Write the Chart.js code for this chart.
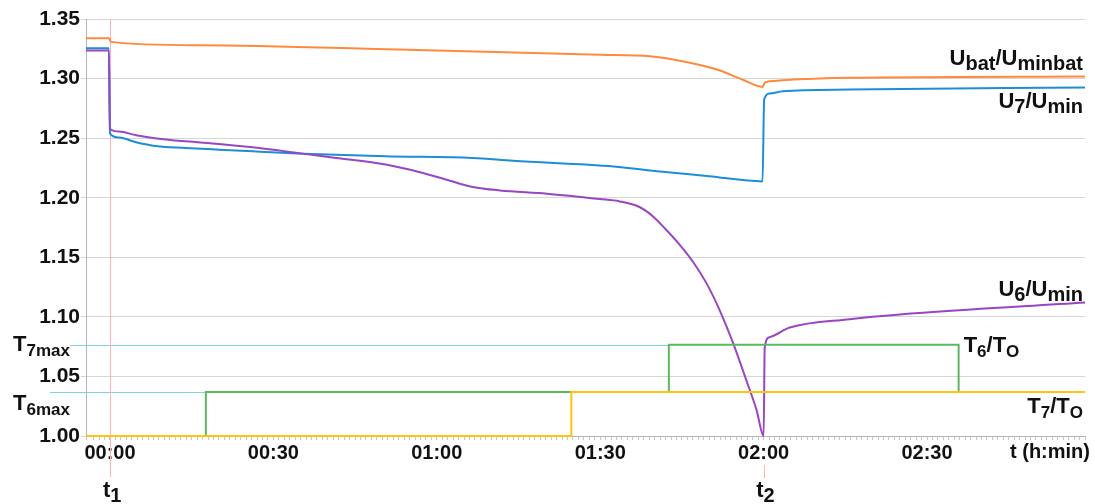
<!DOCTYPE html>
<html>
<head>
<meta charset="utf-8">
<script src="https://cdn.jsdelivr.net/npm/chart.js@4.4.0/dist/chart.umd.min.js"></script>
<style>
  html, body { margin: 0; padding: 0; background: #fff; }
</style>
</head>
<body>
<canvas id="chart" width="1095" height="504"></canvas>
<script>
// ===== Data (time in minutes from t1, values are ratios) =====

// Ubat / Uminbat
const ubatT = [-4.4, -0.2, 0.2, 16.3, 53, 90, 99.1, 105.1, 111.4, 116.1, 119.8, 120.2, 121.1, 123.5, 135.8, 179];
const ubatV = [1.3339, 1.3339, 1.3308, 1.328, 1.3244, 1.320, 1.3187, 1.3145, 1.3076, 1.2992, 1.293, 1.2964, 1.2977, 1.2986, 1.3006, 1.3017];

// U7 / Umin
const u7T = [-4.4, -0.2, 0, 1.65, 4.8, 7.9, 13.9, 20, 26.2, 35.4, 50.6, 66.6, 74, 92.5, 101, 110, 119.8, 120.1, 121.1, 123.5, 135.8, 179];
const u7V = [1.3255, 1.3255, 1.2538, 1.2505, 1.2465, 1.2437, 1.2418, 1.2403, 1.2389, 1.237, 1.2347, 1.2334, 1.231, 1.2263, 1.222, 1.218, 1.2137, 1.2824, 1.2874, 1.2893, 1.2908, 1.2925];

// U6 / Umin
const u6T = [-4.4, -0.2, 0, 1.65, 4.8, 7.9, 13.9, 20, 26.2, 32.3, 35.4, 41.5, 50.6, 56.9, 61.8, 66.6, 71.6, 80.2, 89.9, 93.6, 97.2, 99.7, 102.1, 104.6, 107.0, 109.5, 111.9, 114.4, 116.8, 118.7, 120, 120.2, 121.1, 124.8, 135.8, 145, 179];
const u6V = [1.3235, 1.3235, 1.258, 1.2555, 1.2525, 1.2502, 1.2473, 1.2451, 1.2423, 1.2389, 1.237, 1.2334, 1.2278, 1.2214, 1.2151, 1.209, 1.2061, 1.2034, 1.1989, 1.1969, 1.1922, 1.1843, 1.1731, 1.1605, 1.1465, 1.1283, 1.1059, 1.0779, 1.0471, 1.0219, 1.0, 1.074, 1.083, 1.091, 1.098, 1.102, 1.112];

// T6 / T0 and T7 / T0 (step signals)
const t6T = [-4.4, 17.6, 17.6, 102.6, 102.6, 155.8, 155.8, 179];
const t6V = [1.0, 1.0, 1.037, 1.037, 1.0765, 1.0765, 1.037, 1.037];
const t7T = [-4.4, 84.7, 84.7, 179];
const t7V = [1.0, 1.0, 1.037, 1.037];

// limits and markers
const t7max = 1.0765;
const t6max = 1.037;
const markT1 = 0;
const markT2 = 120.1;

// axis ticks
const xTickMinutes = [0, 30, 60, 90, 120, 150];
const xTickLabels = ["00:00", "00:30", "01:00", "01:30", "02:00", "02:30"];
const yMin = 1.00, yMax = 1.35, yStep = 0.05;

const FONT = '"Liberation Sans", Arial, sans-serif';

const pts = (ts, vs) => ts.map((t, i) => ({ x: t, y: vs[i] }));

// text with subscripts: parts = [[text, isSub], ...]
function richText(ctx, parts, x, y, align, mainSize, subSize) {
  const fMain = `bold ${mainSize}px ${FONT}`;
  const fSub = `bold ${subSize}px ${FONT}`;
  let w = 0;
  parts.forEach(([t, s]) => { ctx.font = s ? fSub : fMain; w += ctx.measureText(t).width; });
  let cx = align === "right" ? x - w : x;
  ctx.textAlign = "left";
  ctx.textBaseline = "alphabetic";
  ctx.fillStyle = "#111";
  parts.forEach(([t, s]) => {
    ctx.font = s ? fSub : fMain;
    ctx.fillText(t, cx, s ? y + 5 : y);
    cx += ctx.measureText(t).width;
  });
}

const markers = {
  id: "markers",
  beforeDatasetsDraw(chart) {
    const { ctx, chartArea: a, scales: { x, y } } = chart;
    ctx.save();
    // T7max / T6max limit lines (T7max stops where T6 steps up to it)
    ctx.strokeStyle = "#7fcff2";
    ctx.lineWidth = 1;
    ctx.beginPath();
    ctx.moveTo(70, Math.round(y.getPixelForValue(t7max)) + 0.5);
    ctx.lineTo(x.getPixelForValue(t6T[3]), Math.round(y.getPixelForValue(t7max)) + 0.5);
    ctx.moveTo(50, Math.round(y.getPixelForValue(t6max)) + 0.5);
    ctx.lineTo(a.right, Math.round(y.getPixelForValue(t6max)) + 0.5);
    ctx.stroke();
    // t1 marker
    ctx.strokeStyle = "#ffb3b3";
    ctx.beginPath();
    const px1 = Math.round(x.getPixelForValue(markT1)) + 0.5;
    ctx.moveTo(px1, a.top);
    ctx.lineTo(px1, 477);
    ctx.stroke();
    ctx.restore();
  },
  afterDraw(chart) {
    const { ctx, chartArea: a, scales: { x, y } } = chart;
    ctx.save();
    // t2 marker below the axis
    ctx.strokeStyle = "#ffb3b3";
    ctx.lineWidth = 1;
    const px2 = Math.round(x.getPixelForValue(markT2)) + 0.5;
    ctx.beginPath();
    ctx.moveTo(px2, 465);
    ctx.lineTo(px2, 478);
    ctx.stroke();

    const R = a.right - 2;
    richText(ctx, [["U"], ["bat", 1], ["/U"], ["minbat", 1]], R, y.getPixelForValue(1.3017) - 12, "right", 22, 20);
    richText(ctx, [["U"], ["7", 1], ["/U"], ["min", 1]], R, y.getPixelForValue(1.2925) + 20, "right", 22, 20);
    richText(ctx, [["U"], ["6", 1], ["/U"], ["min", 1]], R, y.getPixelForValue(1.112) - 7, "right", 22, 20);
    richText(ctx, [["T"], ["6", 1], ["/T"], ["O", 1]], x.getPixelForValue(155.8) + 5, y.getPixelForValue(1.0765) + 7, "left", 22, 17);
    richText(ctx, [["T"], ["7", 1], ["/T"], ["O", 1]], R, y.getPixelForValue(1.037) + 21, "right", 22, 17);
    richText(ctx, [["T"], ["7max", 1]], 13, y.getPixelForValue(t7max) + 6, "left", 22, 17);
    richText(ctx, [["T"], ["6max", 1]], 13, y.getPixelForValue(t6max) + 18, "left", 22, 17);
    richText(ctx, [["t (h:min)"]], 1090, 458, "right", 20, 20);
    richText(ctx, [["t"], ["1", 1]], x.getPixelForValue(markT1) - 7, 497, "left", 22, 20);
    richText(ctx, [["t"], ["2", 1]], x.getPixelForValue(markT2) - 8, 497, "left", 22, 20);
    ctx.restore();
  }
};

const line = (data, color, width) => ({
  data, borderColor: color, borderWidth: width || 2, pointRadius: 0,
  fill: false, clip: false, cubicInterpolationMode: "monotone"
});

new Chart(document.getElementById("chart"), {
  type: "line",
  data: {
    datasets: [
      line(pts(t7T, t7V), "#ffc20e"),
      line(pts(t6T, t6V), "#5cb85c"),
      line(pts(u6T, u6V), "#9a45c2"),
      line(pts(u7T, u7V), "#1b8ed6"),
      line(pts(ubatT, ubatV), "#ff8a3d"),
    ],
  },
  options: {
    responsive: false,
    animation: false,
    devicePixelRatio: 1,
    layout: { padding: { top: 19, right: 10, left: 0, bottom: 0 } },
    plugins: { legend: { display: false }, tooltip: { enabled: false } },
    scales: {
      x: {
        type: "linear",
        min: -4.4,
        max: 179,
        afterFit: s => { s.height = 68; },
        border: { display: true, color: "#b5b5b5" },
        grid: { display: true, drawOnChartArea: false, drawTicks: true, tickLength: 4, color: "#c8c8c8" },
        ticks: {
          stepSize: 1,
          autoSkip: false,
          maxRotation: 0,
          padding: 1,
          color: "#111",
          font: { family: FONT, size: 20, weight: "bold" },
          callback: v => {
            const i = xTickMinutes.findIndex(m => Math.abs(m - v) < 1e-6);
            return i >= 0 ? xTickLabels[i] : "";
          },
        },
      },
      y: {
        min: yMin,
        max: yMax,
        afterFit: s => { s.width = 86; },
        border: { display: true, color: "#b5b5b5" },
        grid: { color: "#d6d6d6", tickLength: 5 },
        ticks: {
          stepSize: yStep,
          padding: 1,
          color: "#111",
          font: { family: FONT, size: 21, weight: "bold" },
          callback: v => v.toFixed(2),
        },
      },
    },
  },
  plugins: [markers],
});
</script>
</body>
</html>
